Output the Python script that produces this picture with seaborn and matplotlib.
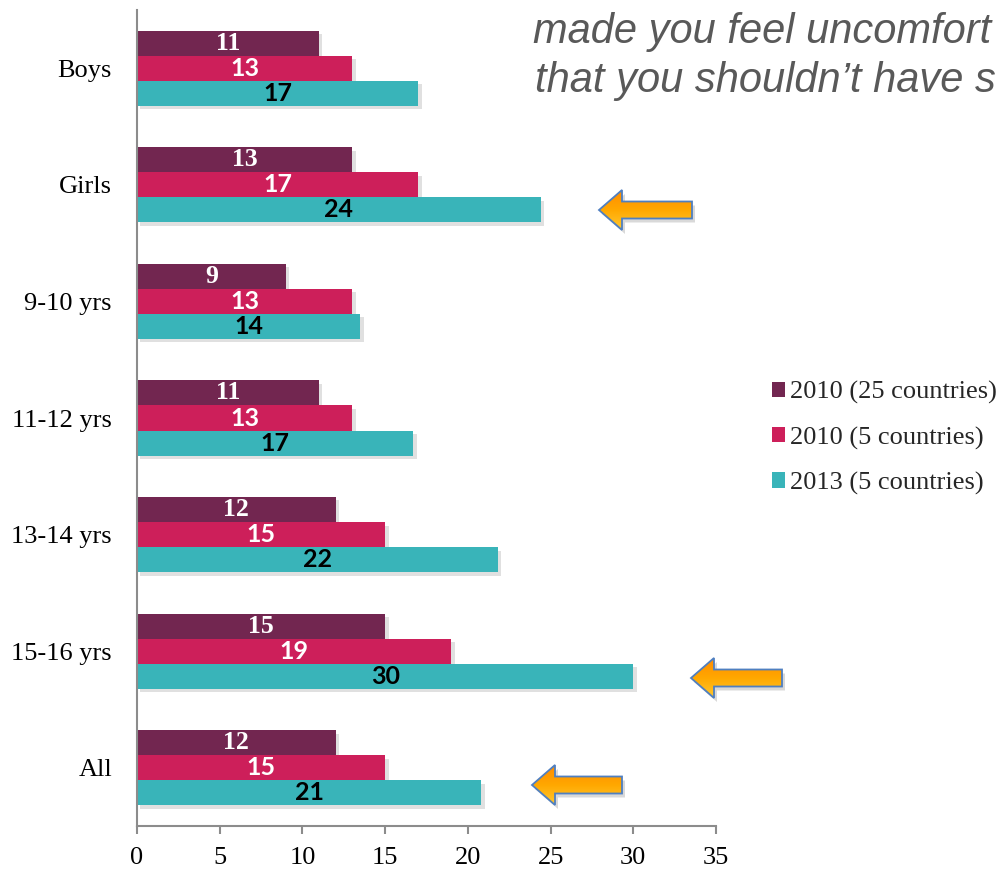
import numpy as np
import pandas as pd
import matplotlib
matplotlib.use("Agg")
import matplotlib.pyplot as plt
import seaborn as sns
from matplotlib.patches import Polygon, Patch
from matplotlib import patheffects as pe
from matplotlib.colors import LinearSegmentedColormap

# ---- data ----
groups = ["Boys", "Girls", "9-10 yrs", "11-12 yrs", "13-14 yrs", "15-16 yrs", "All"]
series = ["2010 (25 countries)", "2010 (5 countries)", "2013 (5 countries)"]
vals_2010_25 = [11, 13, 9, 11, 12, 15, 12]
vals_2010_5 = [13, 17, 13, 13, 15, 19, 15]
vals_2013_5 = [17, 24.4, 13.5, 16.7, 21.8, 30, 20.8]
labels_2010_25 = ["11", "13", "9", "11", "12", "15", "12"]
labels_2010_5 = ["13", "17", "13", "13", "15", "19", "15"]
labels_2013_5 = ["17", "24", "14", "17", "22", "30", "21"]
colors = ["#722650", "#CD1F5A", "#39B4B9"]
title_lines = ["made you feel uncomfort",
               "that you shouldn\u2019t have s"]

df = pd.DataFrame({
    "group": groups * 3,
    "series": [series[0]] * 7 + [series[1]] * 7 + [series[2]] * 7,
    "value": vals_2010_25 + vals_2010_5 + vals_2013_5,
})

sns.set_theme(style="white")
plt.rcParams["font.family"] = ["Liberation Serif", "DejaVu Serif"]

W, H = 1001, 869
fig = plt.figure(figsize=(W / 100, H / 100), dpi=100)
ax = fig.add_axes([137 / W, 43 / H, (716 - 137) / W, (826 - 10) / H])

sns.barplot(data=df, y="group", x="value", hue="series", order=groups,
            hue_order=series, palette=colors, orient="h", width=0.645,
            saturation=1, linewidth=0, ax=ax, legend=False)

shadow = [pe.SimplePatchShadow(offset=(2.5, -2.5), alpha=0.18, shadow_rgbFace="#555555"), pe.Normal()]
for p in ax.patches:
    p.set_path_effects(shadow)

ax.set_xlim(0, 35)
ax.set_ylim(6.5, -0.5)
ax.set_xticks(np.arange(0, 36, 5))
ax.set_xlabel("")
ax.set_ylabel("")

for s in ["top", "right"]:
    ax.spines[s].set_visible(False)
for s in ["left", "bottom"]:
    ax.spines[s].set_color("#8C8C8C")
    ax.spines[s].set_linewidth(1.5)

ax.set_yticks(np.arange(-0.5, 7, 1), minor=True)
ax.tick_params(axis="y", which="major", length=0, pad=18, labelsize=19, labelcolor="black")
ax.tick_params(axis="y", which="minor", length=6, width=1.5, color="#8C8C8C", direction="out")
ax.tick_params(axis="x", which="major", length=6, width=1.5, color="#8C8C8C", direction="out",
               pad=9, labelsize=19, labelcolor="black")
ax.tick_params(left=True, bottom=True)
ax.set_yticklabels(groups)

label_sets = [labels_2010_25, labels_2010_5, labels_2013_5]
label_styles = [
    dict(color="white", fontsize=18.5, fontweight="bold", family=["Liberation Serif"]),
    dict(color="white", fontsize=18, fontweight="bold", family=["Lato", "DejaVu Sans"]),
    dict(color="black", fontsize=18, fontweight="bold", family=["Lato", "DejaVu Sans"]),
]
for cont, labs, st in zip(ax.containers, label_sets, label_styles):
    ax.bar_label(cont, labels=labs, label_type="center", **st)

# legend
handles = [Patch(facecolor=c, edgecolor="none") for c in colors]
fig.legend(handles, series, loc="center left", bbox_to_anchor=(772 / W, 1 - 438 / H),
           frameon=False, fontsize=19, handlelength=0.5, handleheight=0.5,
           handletextpad=0.2, labelspacing=0.84, borderpad=0, borderaxespad=0)

# title text (only the visible part of the slide title)
fig.text(533 / W, 1 - 43 / H, title_lines[0], fontsize=30, style="italic",
         color="#595959", family=["Liberation Sans"], va="baseline")
fig.text(535 / W, 1 - 92 / H, title_lines[1], fontsize=30, style="italic",
         color="#595959", family=["Liberation Sans"], va="baseline")

# overlay for arrows (pixel coordinates)
ov = fig.add_axes([0, 0, 1, 1], zorder=5)
ov.set_xlim(0, W)
ov.set_ylim(H, 0)
ov.axis("off")
ov.patch.set_alpha(0)

grad = np.linspace(0, 1, 64).reshape(-1, 1)
cmap = LinearSegmentedColormap.from_list("org", ["#FF8C00", "#FFA800", "#FFC830"])


def draw_arrow(tip_x, tip_y, tail_x, head_len=23, head_h=40, shaft_h=17):
    pts = [(tip_x, tip_y),
           (tip_x + head_len, tip_y - head_h / 2),
           (tip_x + head_len, tip_y - shaft_h / 2),
           (tail_x, tip_y - shaft_h / 2),
           (tail_x, tip_y + shaft_h / 2),
           (tip_x + head_len, tip_y + shaft_h / 2),
           (tip_x + head_len, tip_y + head_h / 2)]
    sh = Polygon([(x + 3, y + 4) for x, y in pts], closed=True, facecolor="#000000",
                 alpha=0.15, edgecolor="none")
    ov.add_patch(sh)
    poly = Polygon(pts, closed=True, facecolor="none", edgecolor="#4F7FC0", linewidth=1.3)
    ov.add_patch(poly)
    im = ov.imshow(grad, cmap=cmap, aspect="auto",
                   extent=(tip_x, tail_x, tip_y + head_h / 2, tip_y - head_h / 2), zorder=1)
    im.set_clip_path(poly)
    poly.set_zorder(2)


draw_arrow(599, 210, 692)
draw_arrow(691, 678, 782)
draw_arrow(532, 785, 622)
ov.set_xlim(0, W)
ov.set_ylim(H, 0)

fig.savefig("out.png", dpi=100)
